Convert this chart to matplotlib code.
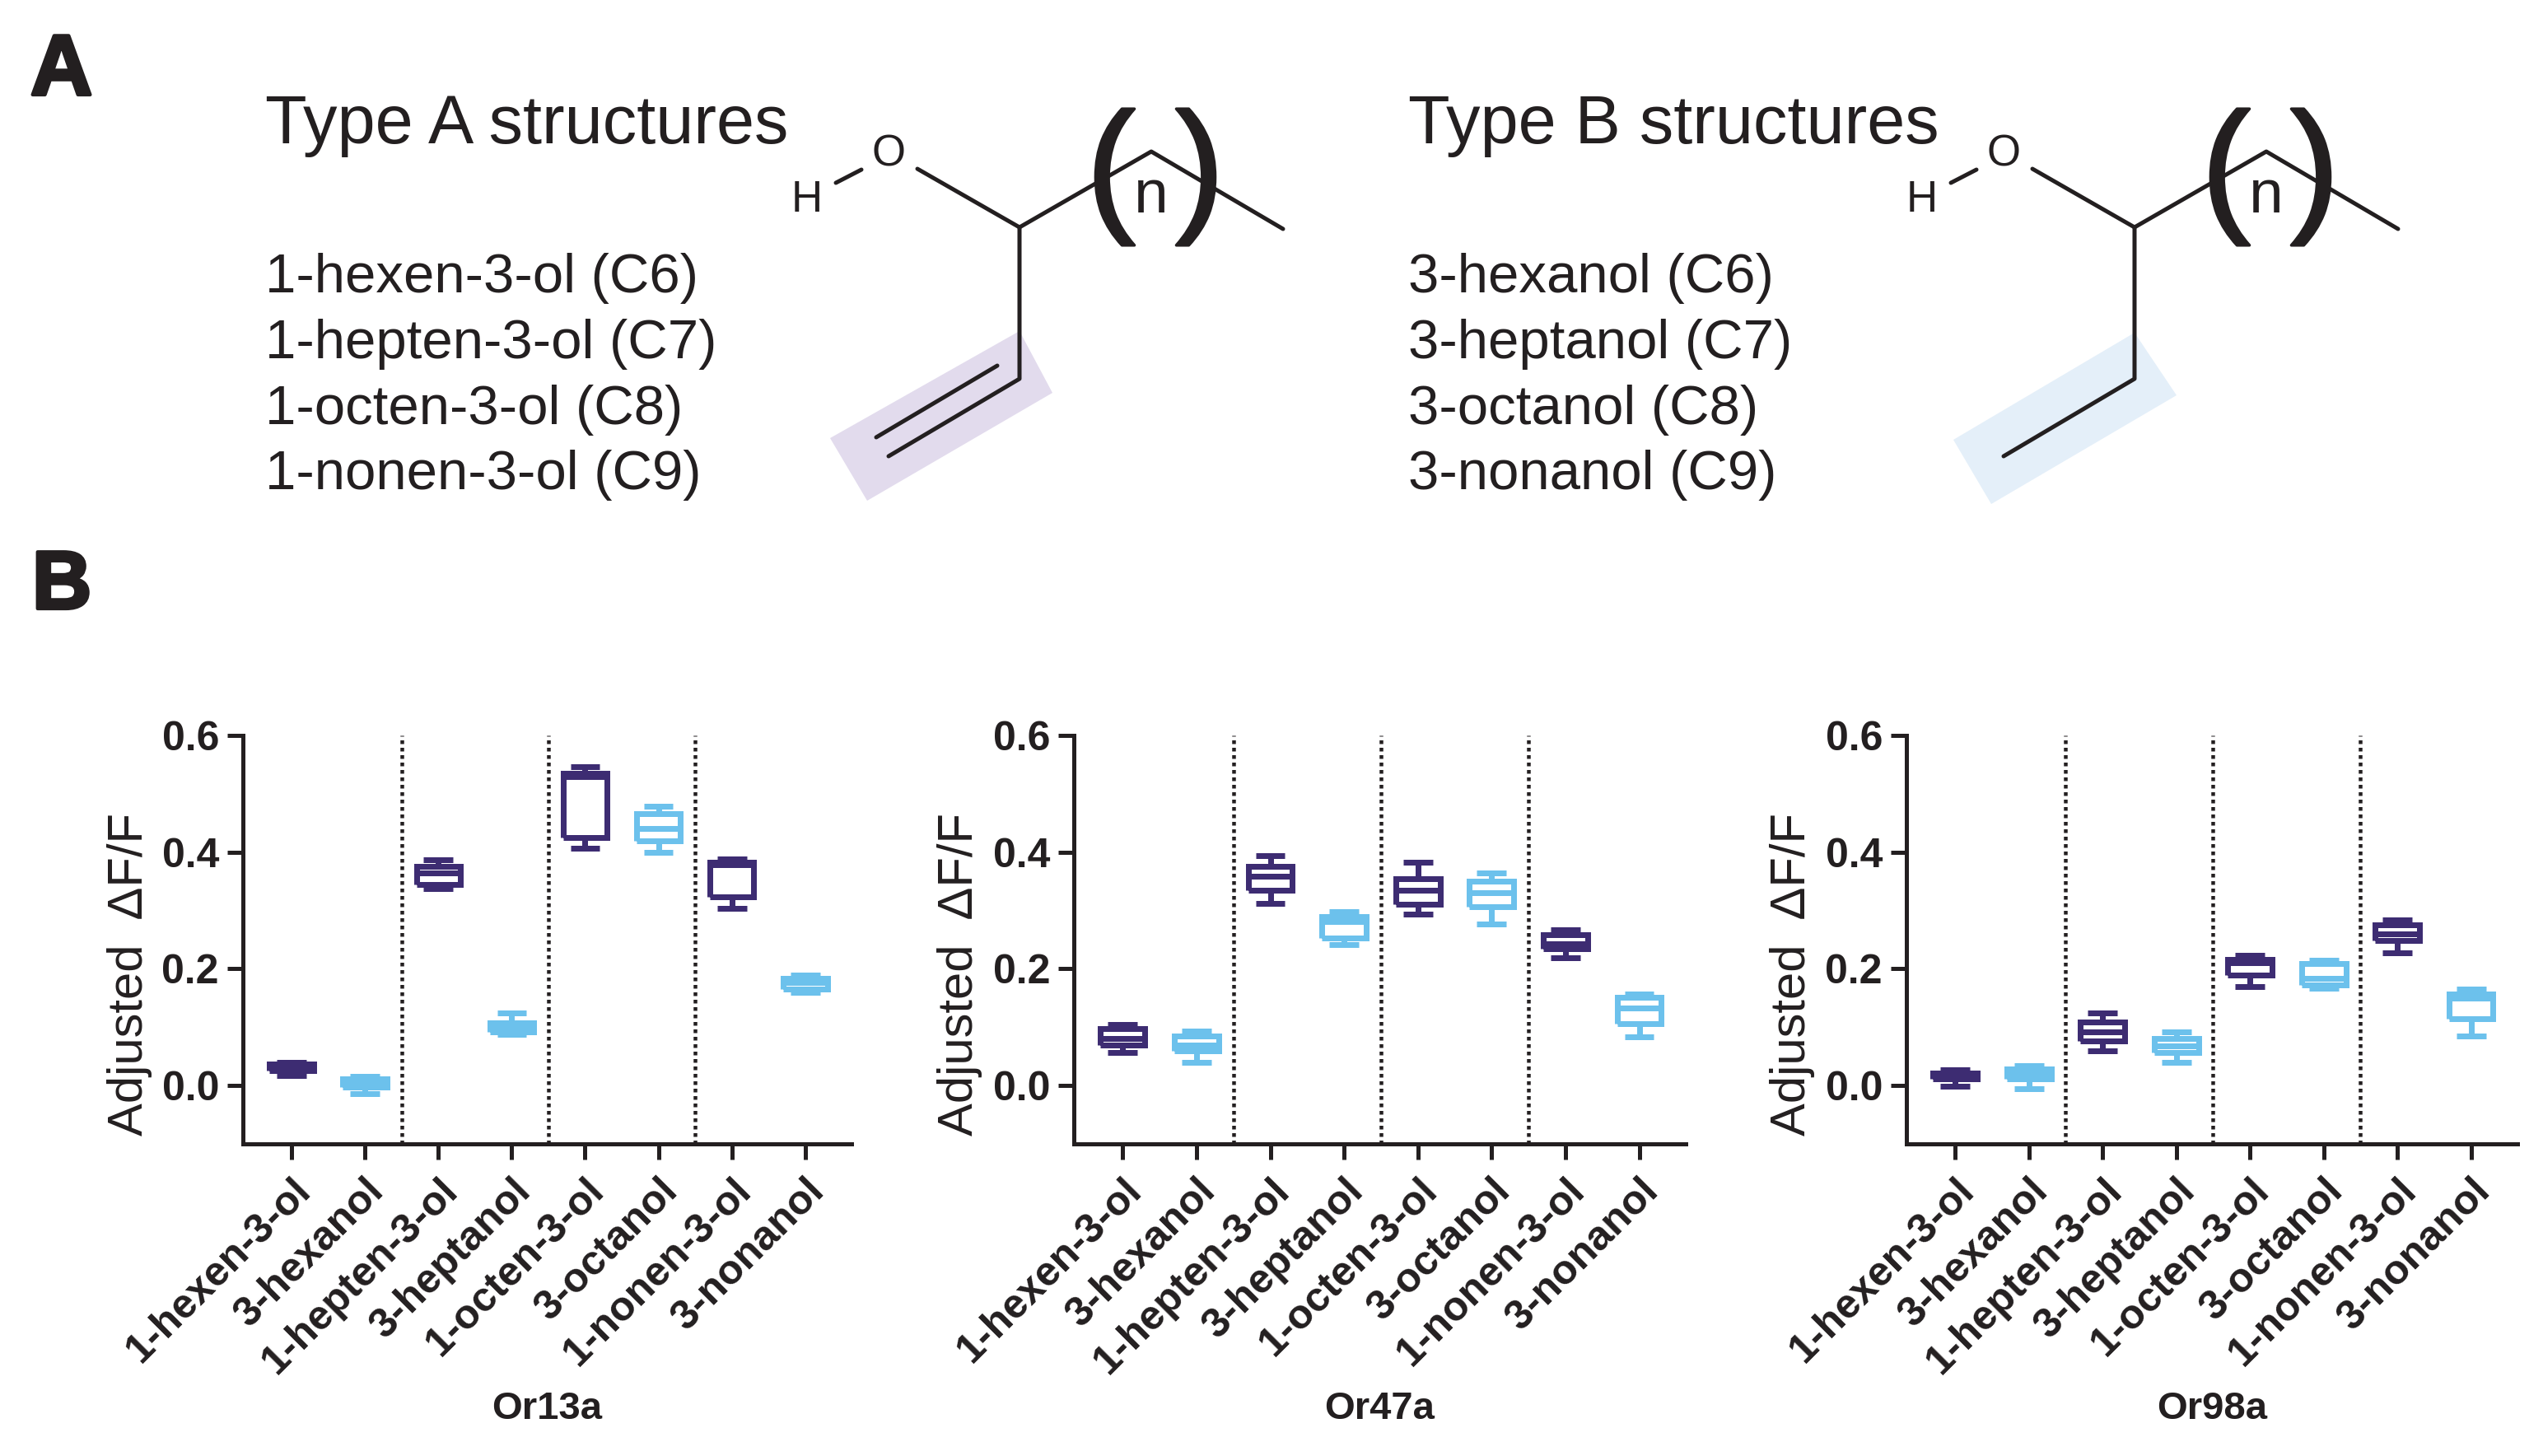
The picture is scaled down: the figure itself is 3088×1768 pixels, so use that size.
'''
Recreates the two panel figure: type A / type B odorant structures on top
and adjusted dF/F boxplots for three odorant receptors below.
'''

import matplotlib
matplotlib.use("Agg")
import matplotlib.pyplot as plt
from matplotlib.patches import Polygon
from matplotlib.transforms import ScaledTranslation
import matplotlib.patheffects as pe

plt.rcParams['font.family'] = ['Liberation Sans', 'DejaVu Sans']

WIDTH, HEIGHT = 3088, 1768
DARK = '#231f20'
PURPLE = '#3d2c72'
BLUE = '#6cc1ec'

odorants = ['1-hexen-3-ol', '3-hexanol', '1-hepten-3-ol', '3-heptanol',
            '1-octen-3-ol', '3-octanol', '1-nonen-3-ol', '3-nonanol']
y_ticks = [0.0, 0.2, 0.4, 0.6]

type_a_names = ['1-hexen-3-ol (C6)', '1-hepten-3-ol (C7)', '1-octen-3-ol (C8)', '1-nonen-3-ol (C9)']
type_b_names = ['3-hexanol (C6)', '3-heptanol (C7)', '3-octanol (C8)', '3-nonanol (C9)']

# Box values
or13a_low = [0.017, -0.014, 0.338, 0.088, 0.407, 0.400, 0.303, 0.159]
or13a_q1 = [0.025, -0.002, 0.344, 0.092, 0.425, 0.420, 0.324, 0.165]
or13a_med = [0.031, 0.005, 0.364, 0.098, 0.530, 0.441, 0.378, 0.176]
or13a_q3 = [0.037, 0.012, 0.375, 0.107, 0.535, 0.466, 0.383, 0.184]
or13a_high = [0.040, 0.016, 0.387, 0.124, 0.547, 0.478, 0.389, 0.189]

or47a_low = [0.056, 0.040, 0.312, 0.241, 0.294, 0.277, 0.219, 0.084]
or47a_q1 = [0.070, 0.060, 0.334, 0.253, 0.310, 0.306, 0.234, 0.106]
or47a_med = [0.080, 0.070, 0.359, 0.281, 0.334, 0.330, 0.243, 0.133]
or47a_q3 = [0.097, 0.085, 0.375, 0.290, 0.354, 0.350, 0.259, 0.151]
or47a_high = [0.104, 0.093, 0.394, 0.298, 0.382, 0.364, 0.267, 0.157]

or98a_low = [-0.001, -0.005, 0.060, 0.040, 0.170, 0.167, 0.227, 0.085]
or98a_q1 = [0.011, 0.011, 0.077, 0.057, 0.190, 0.173, 0.248, 0.115]
or98a_med = [0.016, 0.022, 0.092, 0.068, 0.210, 0.183, 0.260, 0.150]
or98a_q3 = [0.022, 0.028, 0.109, 0.081, 0.216, 0.209, 0.275, 0.157]
or98a_high = [0.027, 0.034, 0.124, 0.092, 0.223, 0.215, 0.284, 0.165]


def px(n):
    """Pixels to points at dpi 100."""
    return n * 0.72


def draw_boxes(left, right, title, low, q1, med, q3, high):
    ax = fig.add_axes([left / WIDTH, 1 - 1389 / HEIGHT, (right - left) / WIDTH, 496 / HEIGHT])
    stats = [{'whislo': a, 'q1': b, 'med': c, 'q3': d, 'whishi': e, 'fliers': []}
             for a, b, c, d, e in zip(low, q1, med, q3, high)]
    for i, stat in enumerate(stats):
        color = PURPLE if i % 2 == 0 else BLUE
        line = {'color': color, 'linewidth': px(7), 'solid_capstyle': 'butt'}
        ax.bxp([stat], positions=[i + 1], widths=[0.6], capwidths=[0.40], showfliers=False,
               boxprops=dict(line, solid_joinstyle='miter'), medianprops=line,
               whiskerprops=line, capprops=line, manage_ticks=False)

    for x in [2.5, 4.5, 6.5]:
        ax.axvline(x, color=DARK, linewidth=px(4.5), linestyle=(0, (1, 1)))

    ax.set_xlim(0.338, 8.63)
    ax.set_ylim(-0.1, 0.6)
    ax.set_xticks(range(1, len(odorants) + 1))
    ax.set_xticklabels(odorants, rotation=45, ha='right', va='top', rotation_mode='anchor',
                       fontsize=36, fontweight='bold', color=DARK)
    # the rotated labels sit a little left of their ticks
    shift = ScaledTranslation(-13 / 100, -4 / 100, fig.dpi_scale_trans)
    for label in ax.get_xticklabels():
        label.set_transform(label.get_transform() + shift)
    ax.set_yticks(y_ticks)
    ax.set_yticklabels([f'{t:.1f}' for t in y_ticks], fontsize=36, fontweight='bold', color=DARK)
    ax.tick_params(axis='both', length=px(19), width=px(5), color=DARK)
    ax.tick_params(axis='x', pad=px(14))
    ax.tick_params(axis='y', pad=px(10))
    for side in ['top', 'right']:
        ax.spines[side].set_visible(False)
    for side in ['left', 'bottom']:
        ax.spines[side].set_linewidth(px(5))
        ax.spines[side].set_color(DARK)
    ax.set_ylabel('Adjusted  \u0394F/F', fontsize=43, color=DARK)
    ax.yaxis.set_label_coords(-0.149, 0.416)
    ax.set_xlabel(title, fontsize=34, fontweight='bold', color=DARK, va='center')
    ax.xaxis.set_label_coords(0.5, -0.649)
    return ax


def draw_structure(canvas, dx, title, title_x, names, double_bond, shade, shade_corners):
    canvas.text(title_x, 174, title, fontsize=59.7, color=DARK, va='baseline')
    for name, base in zip(names, [355, 435, 515, 594]):
        canvas.text(title_x, base, name, fontsize=48.3, color=DARK, va='baseline')

    canvas.add_patch(Polygon(shade_corners, closed=True, facecolor=shade, edgecolor='none', zorder=1))
    bond = dict(color=DARK, linewidth=px(5), solid_capstyle='round', zorder=2)
    # H-O, backbone, then the branch going down
    canvas.plot([1015 + dx, 1046 + dx], [222, 206], **bond)
    canvas.plot([1114 + dx, 1238 + dx, 1398 + dx, 1558 + dx], [205, 276, 184, 278], **bond)
    canvas.plot([1238 + dx, 1238 + dx, 1079 + dx], [276, 460, 554], **bond)
    if double_bond:
        canvas.plot([1211 + dx, 1064 + dx], [444, 531], **bond)

    canvas.text(980 + dx, 243, 'H', fontsize=38, color=DARK, ha='center', va='center')
    canvas.text(1079 + dx, 187, 'O', fontsize=38, color=DARK, ha='center', va='center')
    canvas.text(1398 + dx, 238, 'n', fontsize=54, color=DARK, ha='center', va='center')
    thick = [pe.withStroke(linewidth=2.5, foreground=DARK)]
    canvas.text(1349 + dx, 215, '(', fontsize=128, color=DARK, ha='center', va='center', path_effects=thick)
    canvas.text(1457 + dx, 215, ')', fontsize=128, color=DARK, ha='center', va='center', path_effects=thick)


fig = plt.figure(figsize=(WIDTH / 100, HEIGHT / 100), dpi=100)

canvas = fig.add_axes([0, 0, 1, 1], zorder=0)
canvas.set_xlim(0, WIDTH)
canvas.set_ylim(HEIGHT, 0)
canvas.axis('off')

heavy = [pe.withStroke(linewidth=3, foreground=DARK)]
canvas.text(37, 115, 'A', fontsize=75, fontweight='bold', color=DARK, va='baseline', path_effects=heavy)
canvas.text(39, 739, 'B', fontsize=72, fontweight='bold', color=DARK, va='baseline', path_effects=heavy)

draw_structure(canvas, 0, 'Type A structures', 322, type_a_names, True, '#e2dbed',
               [(1238, 402), (1278, 477), (1053, 608), (1008, 532)])
draw_structure(canvas, 1354, 'Type B structures', 1710, type_b_names, False, '#e4eff9',
               [(2592, 404), (2643, 480), (2418, 612), (2372, 534)])

draw_boxes(295, 1034, 'Or13a', or13a_low, or13a_q1, or13a_med, or13a_q3, or13a_high)
draw_boxes(1304, 2047, 'Or47a', or47a_low, or47a_q1, or47a_med, or47a_q3, or47a_high)
draw_boxes(2315, 3057, 'Or98a', or98a_low, or98a_q1, or98a_med, or98a_q3, or98a_high)

fig.savefig('out.png', dpi=100)
